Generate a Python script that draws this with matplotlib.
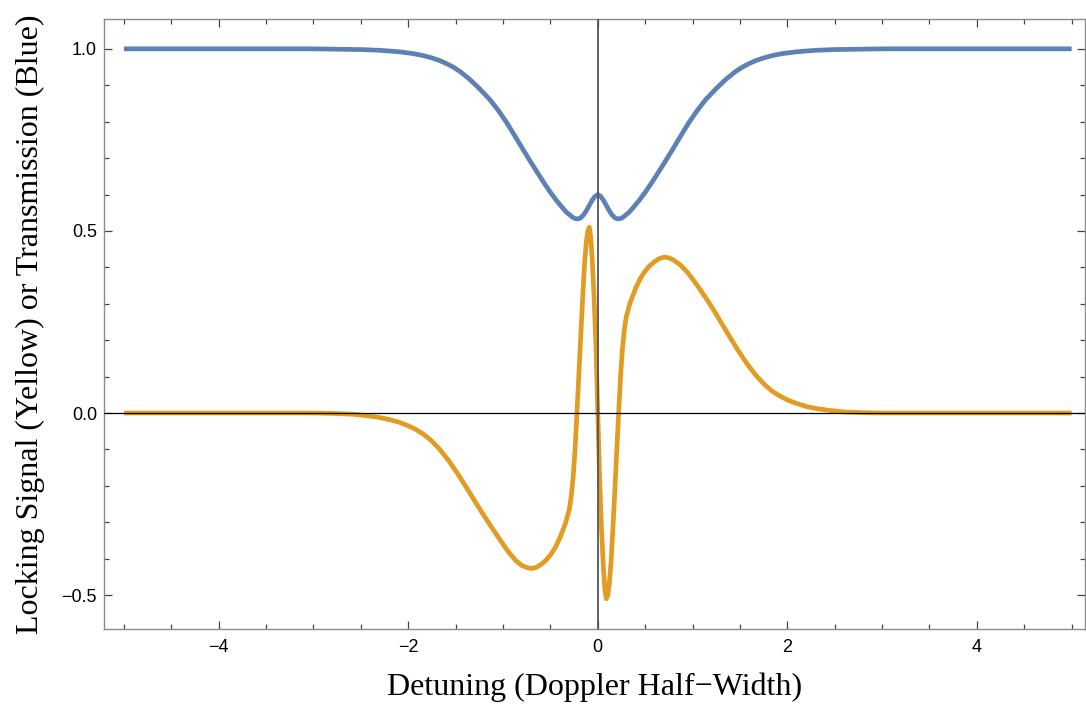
import matplotlib
matplotlib.use("Agg")
import matplotlib.pyplot as plt
from matplotlib.ticker import MultipleLocator

# transmission (blue)
blue_x = [-5.0, -4.0, -3.0, -2.75, -2.5, -2.3, -2.1, -1.95, -1.85, -1.75, -1.67, -1.6,
          -1.52, -1.45, -1.35, -1.25, -1.14, -1.05, -0.96, -0.88, -0.79, -0.7, -0.61,
          -0.55, -0.5, -0.44, -0.38, -0.33, -0.3, -0.27, -0.24, -0.21, -0.18, -0.15,
          -0.12, -0.09, -0.06, -0.03, 0.0, 0.03, 0.06, 0.09, 0.12, 0.15, 0.18, 0.21,
          0.24, 0.27, 0.3, 0.33, 0.38, 0.44, 0.5, 0.55, 0.61, 0.7, 0.79, 0.88, 0.96,
          1.05, 1.14, 1.25, 1.35, 1.45, 1.52, 1.6, 1.67, 1.75, 1.85, 1.95, 2.1, 2.3,
          2.5, 2.75, 3.0, 4.0, 5.0]
blue_y = [1.0, 1.0, 1.0, 0.999, 0.998, 0.996, 0.992, 0.987, 0.982, 0.975, 0.968, 0.96,
          0.949, 0.937, 0.916, 0.891, 0.861, 0.831, 0.797, 0.763, 0.724, 0.686, 0.649,
          0.625, 0.606, 0.585, 0.566, 0.551, 0.545, 0.538, 0.534, 0.533, 0.536, 0.544,
          0.556, 0.57, 0.584, 0.595, 0.6, 0.595, 0.584, 0.57, 0.556, 0.544, 0.536,
          0.533, 0.534, 0.538, 0.545, 0.551, 0.566, 0.585, 0.606, 0.625, 0.649, 0.686,
          0.724, 0.763, 0.797, 0.831, 0.861, 0.891, 0.916, 0.937, 0.949, 0.96, 0.968,
          0.975, 0.982, 0.987, 0.992, 0.996, 0.998, 0.999, 1.0, 1.0, 1.0]

# locking signal (yellow)
yel_x = [-5.0, -4.0, -3.0, -2.8, -2.6, -2.45, -2.31, -2.2, -2.1, -2.0, -1.92, -1.84,
         -1.76, -1.67, -1.57, -1.48, -1.39, -1.3, -1.22, -1.13, -1.04, -0.95, -0.87,
         -0.8, -0.75, -0.7, -0.65, -0.6, -0.55, -0.5, -0.45, -0.4, -0.34, -0.3, -0.28,
         -0.26, -0.24, -0.22, -0.2, -0.18, -0.16, -0.14, -0.12, -0.105, -0.09, -0.075,
         -0.06, -0.04, -0.02, 0.0, 0.02, 0.04, 0.06, 0.075, 0.09, 0.105, 0.12, 0.14,
         0.16, 0.18, 0.2, 0.22, 0.24, 0.26, 0.28, 0.3, 0.34, 0.4, 0.45, 0.5, 0.55, 0.6,
         0.65, 0.7, 0.75, 0.8, 0.87, 0.95, 1.04, 1.13, 1.22, 1.3, 1.39, 1.48, 1.57,
         1.67, 1.76, 1.84, 1.92, 2.0, 2.1, 2.2, 2.31, 2.45, 2.6, 2.8, 3.0, 4.0, 5.0]
yel_y = [0.0, 0.0, 0.0, -0.001, -0.003, -0.007, -0.012, -0.018, -0.025, -0.035, -0.045,
         -0.058, -0.075, -0.099, -0.132, -0.166, -0.203, -0.241, -0.274, -0.31, -0.345,
         -0.379, -0.404, -0.419, -0.424, -0.427, -0.424, -0.416, -0.405, -0.39, -0.37,
         -0.343, -0.302, -0.264, -0.228, -0.176, -0.1, 0.0, 0.105, 0.21, 0.315, 0.41,
         0.472, 0.5, 0.51, 0.484, 0.428, 0.322, 0.188, 0.0, -0.188, -0.322, -0.428,
         -0.484, -0.51, -0.5, -0.472, -0.41, -0.315, -0.21, -0.105, 0.0, 0.1, 0.176,
         0.228, 0.264, 0.302, 0.343, 0.37, 0.39, 0.405, 0.416, 0.424, 0.428, 0.426,
         0.42, 0.407, 0.385, 0.354, 0.32, 0.284, 0.249, 0.21, 0.172, 0.137, 0.103,
         0.078, 0.06, 0.047, 0.036, 0.026, 0.018, 0.012, 0.007, 0.003, 0.001, 0.0, 0.0,
         0.0]

blue = "#5E81B5"
yellow = "#E19C24"

fig = plt.figure(figsize=(10.86, 7.08), dpi=100)
ax = fig.add_axes([0.0958, 0.1116, 0.9032, 0.8616])

ax.plot(blue_x, blue_y, color=blue, lw=3.4, solid_capstyle="butt", solid_joinstyle="round", zorder=2)
ax.plot(yel_x, yel_y, color=yellow, lw=3.4, solid_capstyle="butt", solid_joinstyle="round", zorder=2)

# axes through the origin, drawn over the curves
ax.axhline(0, color="black", lw=0.9, zorder=3)
ax.axvline(0, color="#555555", lw=1.3, zorder=3)

ax.set_xlim(-5.21, 5.14)
ax.set_ylim(-0.593, 1.082)

ax.xaxis.set_major_locator(MultipleLocator(2))
ax.xaxis.set_minor_locator(MultipleLocator(0.5))
ax.yaxis.set_major_locator(MultipleLocator(0.5))
ax.yaxis.set_minor_locator(MultipleLocator(0.1))
ax.yaxis.set_major_formatter(plt.FuncFormatter(lambda v, p: ("%.1f" % v).replace("-", "\u2212")))
ax.xaxis.set_major_formatter(plt.FuncFormatter(lambda v, p: ("%d" % round(v)).replace("-", "\u2212")))

ax.tick_params(which="both", direction="in", top=True, right=True, color="#444444", width=0.9,
               labelsize=13, labelcolor="black")
ax.tick_params(which="major", length=6)
ax.tick_params(which="minor", length=3.5)
ax.tick_params(axis="x", pad=7)
ax.tick_params(axis="y", pad=5)
for lab in ax.get_xticklabels() + ax.get_yticklabels():
    lab.set_family("Liberation Sans")

for s in ax.spines.values():
    s.set_color("#8c8c8c")
    s.set_linewidth(1.0)

ax.set_xlabel("Detuning (Doppler Half\u2212Width)", family="Liberation Serif", fontsize=23, labelpad=12)
ax.set_ylabel("Locking Signal (Yellow) or Transmission (Blue)", family="Liberation Serif",
              fontsize=23, labelpad=12)

fig.savefig("out.png", dpi=100)
